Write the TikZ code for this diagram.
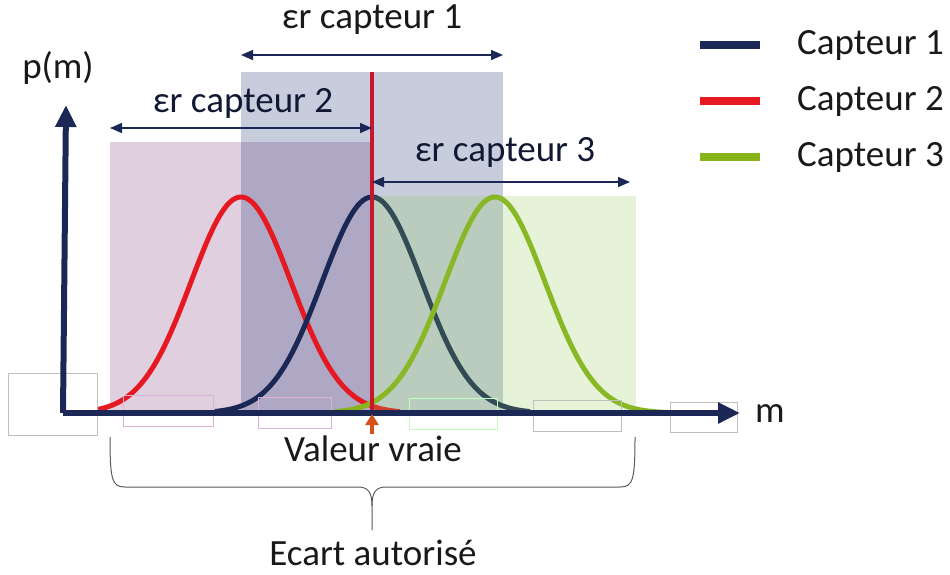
\documentclass[tikz,border=0pt]{standalone}
\usepackage{fontspec}
\setmainfont{Carlito}
\usetikzlibrary{arrows.meta}
\definecolor{navy}{RGB}{27,40,86}
\definecolor{cred}{RGB}{230,25,35}
\definecolor{cgreen}{RGB}{135,180,25}
\definecolor{vline}{RGB}{200,22,45}
\definecolor{fblue}{RGB}{31,56,120}
\definecolor{fmauve}{RGB}{150,95,150}
\definecolor{fgreen}{RGB}{140,200,80}
\definecolor{orng}{RGB}{215,80,25}
\tikzset{
  txt/.style={font=\fontsize{37}{42}\selectfont, inner sep=0pt, text=black!90},
  eptxt/.style={font=\fontsize{37}{42}\selectfont, inner sep=0pt, text=navy!60!black},
  axisline/.style={navy, line width=6pt, -{Triangle[length=22pt,width=20pt]}},
  curve/.style={line width=5pt},
  dbl/.style={navy, line width=1.4pt, {Triangle[length=12pt,width=10pt]}-{Triangle[length=12pt,width=10pt]}},
  ghost/.style={draw=black!25, line width=0.8pt},
  legline/.style={line width=8pt},
}
\begin{document}
\begin{tikzpicture}[x=1pt,y=-1pt]
\useasboundingbox (0,0) rectangle (950,574);
% ranges
\fill[fmauve, fill opacity=0.3] (110,142) rectangle (372,413);
\fill[fblue, fill opacity=0.25] (241,72) rectangle (503,413);
% curves
\draw[curve, cred] plot[domain=98:400, samples=120] (\x, {413-216*exp(-((\x-241)/50)^2/2)});
\draw[curve, navy] plot[domain=215:530, samples=120] (\x, {413-216*exp(-((\x-372)/50)^2/2)});
\draw[curve, cgreen] plot[domain=335:668, samples=120] (\x, {413-216*exp(-((\x-495)/50)^2/2)});
\fill[fgreen, fill opacity=0.22] (372,196) rectangle (636,413);
% ghost boxes
\draw[ghost] (8,373) rectangle (97,435);
\draw[ghost, draw=violet!30] (123,395) rectangle (213,426);
\draw[ghost, draw=violet!30] (258,397) rectangle (331,428);
\draw[ghost, draw=green!25] (409,398) rectangle (497,429);
\draw[ghost] (533,400) rectangle (621,431);
\draw[ghost] (670,402) rectangle (737,432);
% true value line
\coordinate (vt) at (372,72);
\coordinate (vb) at (372,413);
\draw[vline, line width=3.5pt] (vt) -- (vb);
% axes
\coordinate (O) at (66,413);
\coordinate (ytip) at (66,105);
\coordinate (xtip) at (740,413);
\draw[axisline] (63,413) -- (ytip);
\draw[axisline] (63,413) -- (xtip);
\node[txt] (pm) at (58,68) {p(m)};
\node[txt] (m) at (770,414) {m};
% valeur vraie
\node[txt] (vv) at (373,449) {Valeur vraie};
\coordinate (va) at (372,434);
\coordinate (vb2) at (372,414);
\draw[orng, line width=3.5pt, -{Triangle[length=11pt,width=13pt]}] (va) -- (vb2);
% epsilon arrows
\coordinate (a1l) at (241,55); \coordinate (a1r) at (503,55);
\coordinate (a2l) at (110,128); \coordinate (a2r) at (372,128);
\coordinate (a3l) at (372,182); \coordinate (a3r) at (630,182);
\draw[dbl] (a1l) -- (a1r);
\draw[dbl] (a2l) -- (a2r);
\draw[dbl] (a3l) -- (a3r);
\node[txt] (e1) at (372,20) {εr capteur 1};
\node[eptxt] (e2) at (243,103) {εr capteur 2};
\node[eptxt] (e3) at (505,152) {εr capteur 3};
% brace
\draw[black!65, line width=1pt] (110,437) .. controls (110,480) and (112,487) .. (125,487) -- (358,487) .. controls (368,487) and (372,492) .. (372,506) -- (372,530);
\draw[black!65, line width=1pt] (372,506) .. controls (372,492) and (376,487) .. (386,487) -- (620,487) .. controls (633,487) and (635,480) .. (635,437);
\node[txt] (ea) at (373,553) {Ecart autorisé};
% legend
\draw[legline, navy] (700,45) -- (760,45);
\draw[legline, cred] (700,101) -- (760,101);
\draw[legline, cgreen] (700,157) -- (760,157);
\node[txt, anchor=west] (l1) at (797,45) {Capteur 1};
\node[txt, anchor=west] (l2) at (797,101) {Capteur 2};
\node[txt, anchor=west] (l3) at (797,157) {Capteur 3};
\end{tikzpicture}
\end{document}
